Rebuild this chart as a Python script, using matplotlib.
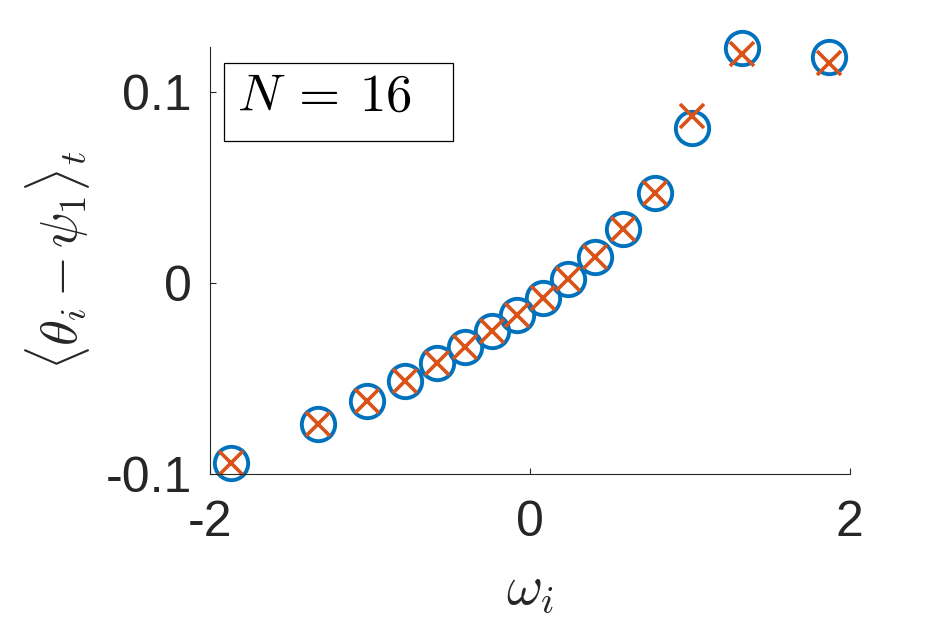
import numpy as np
import matplotlib
matplotlib.use('Agg')
import matplotlib.pyplot as plt
from matplotlib.patches import Rectangle

plt.rcParams['font.family'] = ['Liberation Sans', 'DejaVu Sans']
plt.rcParams['mathtext.fontset'] = 'cm'

# natural frequencies (symmetric)
omega = [-1.868, -1.323, -1.016, -0.784, -0.583, -0.408, -0.238, -0.080,
         0.080, 0.238, 0.408, 0.583, 0.784, 1.016, 1.323, 1.868]
# time-averaged phase offset, simulation (circles)
phase_sim = [-0.0942, -0.0738, -0.0618, -0.0513, -0.0419, -0.0335, -0.0251, -0.0168,
             -0.0079, 0.0021, 0.0136, 0.0283, 0.0471, 0.0812, 0.1230, 0.1180]
# theory (crosses)
phase_theory = [-0.0942, -0.0738, -0.0618, -0.0513, -0.0419, -0.0335, -0.0251, -0.0168,
                -0.0079, 0.0021, 0.0136, 0.0283, 0.0471, 0.0874, 0.1200, 0.1153]
N = 16

xticks = [-2, 0, 2]
xtick_labels = ['-2', '0', '2']
yticks = [-0.1, 0, 0.1]
ytick_labels = ['-0.1', '0', '0.1']

dark = '#262626'

fig = plt.figure(figsize=(9.38, 6.25), dpi=100)
ax = fig.add_axes([0.224, 0.2416, 0.682, 0.6834])

ax.plot(omega, phase_sim, 'o', ms=24, mfc='none', mec='#0072BD', mew=2.8,
        ls='none', clip_on=False)
ax.plot(omega, phase_theory, 'x', ms=17, mec='#D95319', mew=2.6,
        ls='none', clip_on=False)

ax.set_xlim(-2, 2)
ax.set_ylim(-0.1, 0.1235)
ax.set_xticks(xticks)
ax.set_xticklabels(xtick_labels)
ax.set_yticks(yticks)
ax.set_yticklabels(ytick_labels)

for s in ['top', 'right']:
    ax.spines[s].set_visible(False)
for s in ['left', 'bottom']:
    ax.spines[s].set_linewidth(0.8)
    ax.spines[s].set_color(dark)

ax.tick_params(direction='in', length=4.5, width=0.8, colors=dark, labelsize=36)
ax.tick_params(axis='x', pad=19)
ax.tick_params(axis='y', pad=13)

ax.set_xlabel(r'$\omega_i$', fontsize=40, color=dark, labelpad=12)
ax.set_ylabel(r'$\langle\theta_i\,{-}\,\psi_1\rangle_t$', fontsize=38, color=dark, labelpad=10)

# annotation box
ax.add_patch(Rectangle((0.022, 0.780), 0.358, 0.1825, transform=ax.transAxes,
                       fill=True, facecolor='white', edgecolor='black', lw=0.9, zorder=5))
ax.text(0.042, 0.884, r'$N\:=\:%d$' % N, transform=ax.transAxes, fontsize=38,
        va='center', ha='left', color='black', zorder=6)

fig.savefig('out.png', dpi=100)
